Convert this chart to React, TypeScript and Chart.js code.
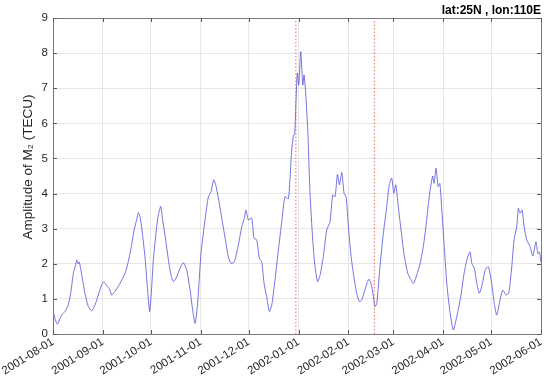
import React, { useEffect, useRef } from "react";
import { Chart, registerables } from "chart.js";

Chart.register(...registerables);

// Days since 2001-08-01
const SERIES_DAYS = [
  0, 1.5, 2.7, 4, 5.4, 7.5, 9.5, 11, 12.7, 14, 14.8, 15.6, 16.4, 17.9, 19.9, 22, 24.1, 26.2, 28.2, 30.3,
  31.8, 33.4, 35, 36.6, 38.6, 41.7, 44.9, 46.9, 49, 50.5, 52.1, 53.2, 54.2, 55.3, 57.3, 59, 60.2, 61.3,
  62.5, 64.6, 65.6, 67.1, 68.3, 70.2, 71.9, 73.5, 75, 77.1, 79.1, 81.2, 83.3, 85.4, 87, 88.5, 90.1,
  92.2, 94.7, 96.8, 98.4, 100.1, 101.6, 103.4, 105.5, 107.6, 109.2, 110.9, 113, 115.5, 117.6, 119.2,
  120.2, 121.7, 123.8, 125.2, 126.9, 128.5, 130, 131.5, 133.1, 134.8, 136.3, 138.3, 140.4, 142.5,
  144.5, 146.6, 147.7, 148.7, 149.7, 150.6, 151.4, 152.2, 153.1, 154.3, 155.6, 156.4, 157.4, 158.7,
  160.1, 161.8, 163.2, 164.9, 166.4, 168.4, 170.5, 172.6, 174.2, 175.7, 177.2, 178.4, 179.9, 181.3,
  182.6, 184, 185.7, 187.1, 189.2, 190.9, 192.3, 194, 195.5, 196.9, 198.6, 200.6, 201.7, 203.7, 205.8,
  207.9, 209.5, 211, 212.3, 213.5, 215.1, 216.8, 218.9, 221, 222.4, 224.5, 226.6, 228.7, 230.7, 232.8,
  234.5, 236.5, 237.4, 238.6, 239.9, 241, 242.2, 243.6, 245.3, 247.4, 249.4, 251.5, 254, 256.1, 258.1,
  259.8, 260.9, 262.5, 264, 265.6, 267.5, 269.2, 271.2, 273.3, 274.9, 276.4, 278.5, 280.2, 282.2,
  283.9, 285.8, 287.2, 288.9, 289.9, 290.9, 292.2, 293.5, 295.1, 297.2, 298.9, 300.9, 302, 303, 304,
];

const SERIES_VALUES = [
  0.65, 0.4, 0.28, 0.4, 0.54, 0.64, 0.83, 1.16, 1.73, 1.95, 2.11, 2.0, 2.05, 1.68, 1.16, 0.78, 0.66, 0.83, 1.11, 1.4,
  1.49, 1.37, 1.3, 1.11, 1.21, 1.44, 1.73, 2.06, 2.54, 2.96, 3.25, 3.46, 3.34, 3.01, 2.2, 1.2, 0.64, 1.2,
  2.11, 3.06, 3.39, 3.63, 3.25, 2.68, 2.11, 1.68, 1.49, 1.63, 1.87, 2.03, 1.82, 1.25, 0.68, 0.3, 0.87,
  2.3, 3.25, 3.91, 4.05, 4.39, 4.2, 3.77, 3.2, 2.63, 2.2, 2.01, 2.06, 2.54, 3.06, 3.3,
  3.53, 3.25, 3.3, 2.73, 2.68, 2.16, 2.06, 1.44, 1.06, 0.64, 0.83, 1.54, 2.39, 3.2,
  3.91, 3.85, 4.48, 5.24, 5.62, 5.72, 6.67, 7.43, 7.09, 8.04, 7.09, 7.38, 6.86, 5.81,
  4.01, 2.68, 1.92, 1.49, 1.68, 2.2, 2.96, 3.2, 3.96, 3.91, 4.55, 4.25, 4.6, 4.01,
  3.91, 3.06, 2.2, 1.73, 1.16, 0.92, 0.97, 1.21, 1.44, 1.56, 1.35, 0.78, 0.87, 1.92, 2.87,
  3.63, 4.25, 4.44, 4.01, 4.25, 3.63, 2.96, 2.2, 1.73, 1.59, 1.44, 1.68, 2.01, 2.49, 3.25,
  3.96, 4.5, 4.29, 4.72, 4.2, 4.29, 3.53, 2.58, 1.44, 0.59, 0.11, 0.49, 1.06, 1.73, 2.16,
  2.34, 2.01, 1.87, 1.44, 1.16, 1.44, 1.82, 1.92, 1.44, 0.87, 0.54, 0.97, 1.25, 1.11,
  1.16, 1.92, 2.68, 3.06, 3.58, 3.44, 3.53, 3.06, 2.68, 2.49, 2.22, 2.63, 2.29, 2.34, 2.05,
];

const MONTH_DAYS = [0, 31, 61, 92, 122, 153, 184, 212, 243, 273, 304];
const MONTH_LABELS = [
  "2001-08-01", "2001-09-01", "2001-10-01", "2001-11-01", "2001-12-01", "2002-01-01",
  "2002-02-01", "2002-03-01", "2002-04-01", "2002-05-01", "2002-06-01",
];

// Event markers (days since 2001-08-01)
const EVENT_DAYS = [151.3, 200.2];

const Y_MIN = 0;
const Y_MAX = 9;
const TITLE = "lat:25N , lon:110E";
const Y_LABEL = "Amplitude of M\u2082 (TECU)";

const FONT = '"Liberation Sans", Arial, Helvetica, sans-serif';

const boxPlugin = {
  id: "matlabBox",
  afterDatasetsDraw(chart: any) {
    const { ctx, chartArea } = chart;
    const { left, right, top, bottom } = chartArea;
    const xs = chart.scales.x;
    const ys = chart.scales.y;
    ctx.save();
    ctx.strokeStyle = "#7a7a7a";
    ctx.lineWidth = 1;
    ctx.beginPath();
    ctx.rect(Math.round(left) + 0.5, Math.round(top) + 0.5, Math.round(right - left), Math.round(bottom - top));
    ctx.stroke();
    ctx.strokeStyle = "#5a5a5a";
    ctx.beginPath();
    const tl = 4;
    MONTH_DAYS.forEach((d) => {
      const x = Math.round(xs.getPixelForValue(d)) + 0.5;
      ctx.moveTo(x, bottom);
      ctx.lineTo(x, bottom - tl);
      ctx.moveTo(x, top);
      ctx.lineTo(x, top + tl);
    });
    for (let v = Y_MIN; v <= Y_MAX; v++) {
      const y = Math.round(ys.getPixelForValue(v)) + 0.5;
      ctx.moveTo(left, y);
      ctx.lineTo(left + tl, y);
      ctx.moveTo(right, y);
      ctx.lineTo(right - tl, y);
    }
    ctx.stroke();

    // y-axis label (rotated), placed like the MATLAB ylabel
    ctx.fillStyle = "#262626";
    ctx.font = `13.5px ${FONT}`;
    ctx.textAlign = "center";
    ctx.textBaseline = "middle";
    ctx.translate(28, (top + bottom) / 2 - 9);
    ctx.rotate(-Math.PI / 2);
    ctx.fillText(Y_LABEL, 0, 0);
    ctx.restore();
  },
};

export default function App() {
  const ref = useRef<HTMLCanvasElement | null>(null);

  useEffect(() => {
    if (!ref.current) return;
    const seriesData = SERIES_DAYS.map((d, i) => ({ x: d, y: SERIES_VALUES[i] }));
    const eventSets = EVENT_DAYS.map((d) => ({
      data: [
        { x: d, y: Y_MIN },
        { x: d, y: Y_MAX },
      ],
      borderColor: "#e8403a",
      borderWidth: 0.8,
      borderDash: [1.5, 2],
      borderCapStyle: "butt",
      pointRadius: 0,
      tension: 0,
      fill: false,
    }));
    const chart = new Chart(ref.current, {
      type: "line",
      data: {
        datasets: [
          ...eventSets,
          {
            data: seriesData,
            borderColor: "#5050d8",
            borderWidth: 0.8,
            pointRadius: 0,
            tension: 0.2,
            fill: false,
          },
        ],
      },
      options: {
        responsive: false,
        animation: false,
        layout: { padding: { left: 0, right: 9, top: 0, bottom: 0 } },
        plugins: {
          legend: { display: false },
          tooltip: { enabled: false },
          title: {
            display: true,
            text: TITLE,
            align: "end",
            color: "#000",
            font: { family: FONT, size: 12, weight: "bold", lineHeight: 1.2 },
            padding: { top: 3.6, bottom: 0 },
          },
        },
        scales: {
          x: {
            type: "linear",
            min: MONTH_DAYS[0],
            max: MONTH_DAYS[MONTH_DAYS.length - 1],
            afterBuildTicks: (scale: any) => {
              scale.ticks = MONTH_DAYS.map((v) => ({ value: v }));
            },
            afterFit: (scale: any) => {
              scale.height = 48;
            },
            ticks: {
              autoSkip: false,
              minRotation: 32,
              maxRotation: 32,
              padding: 1,
              color: "#262626",
              font: { family: FONT, size: 11.5 },
              callback: (_v: any, i: number) => MONTH_LABELS[i],
            },
            grid: { color: "#e6e6e6", lineWidth: 1, drawTicks: false },
            border: { display: false },
          },
          y: {
            type: "linear",
            min: Y_MIN,
            max: Y_MAX,
            afterFit: (scale: any) => {
              scale.width = 53;
            },
            ticks: {
              stepSize: 1,
              padding: 5,
              color: "#262626",
              font: { family: FONT, size: 11.5 },
            },
            grid: { color: "#e6e6e6", lineWidth: 1, drawTicks: false },
            border: { display: false },
          },
        },
      },
      plugins: [boxPlugin],
    });
    return () => chart.destroy();
  }, []);

  return (
    <div style={{ position: "absolute", left: 0, top: 0, width: 550, height: 382, background: "#fff" }}>
      <canvas ref={ref} width={550} height={382} />
    </div>
  );
}
